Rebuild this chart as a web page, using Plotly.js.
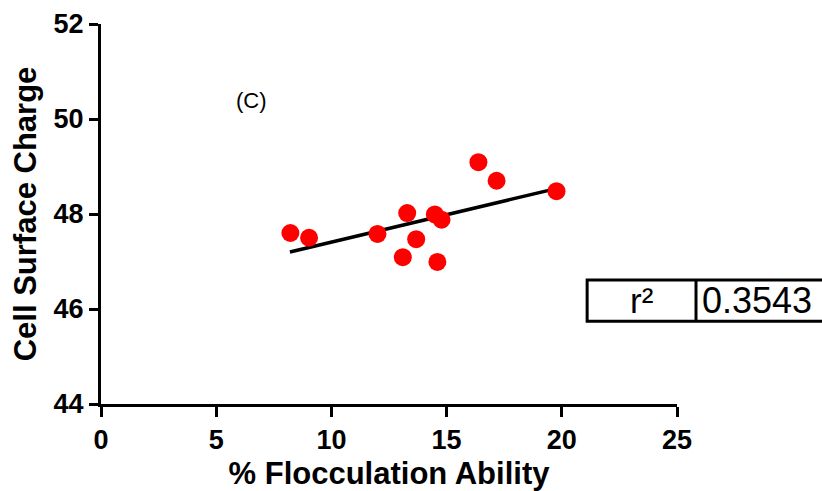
<!DOCTYPE html>
<html>
<head>
<meta charset="utf-8">
<script src="https://cdn.plot.ly/plotly-3.0.1.min.js"></script>
<style>html,body{margin:0;padding:0;background:#fff;}#chart{width:822px;height:491px;}</style>
</head>
<body>
<div id="chart"></div>
<script>
var flocculation = [8.22, 9.03, 12.0, 13.29, 13.1, 13.68, 14.49, 14.78, 14.6, 16.38, 17.17, 19.77];
var surfaceCharge = [47.60, 47.50, 47.58, 48.02, 47.09, 47.47, 47.99, 47.88, 46.99, 49.09, 48.70, 48.48];
var fitX = [8.2, 19.8];
var fitY = [47.20, 48.54];
var xTicks = [0, 5, 10, 15, 20, 25];
var yTicks = [44, 46, 48, 50, 52];
var panelLabel = "(C)";
var statName = "r²";
var statValue = "0.3543";

var font = "Liberation Sans, Arial, Helvetica, sans-serif";

var traces = [
  {x: fitX, y: fitY, mode: "lines", line: {color: "#000", width: 3.5}, hoverinfo: "skip"},
  {x: flocculation, y: surfaceCharge, mode: "markers",
   marker: {color: "#ff0000", size: 18, line: {width: 0}}}
];

var layout = {
  width: 822, height: 491,
  margin: {l: 101, r: 145, t: 24, b: 87},
  paper_bgcolor: "#fff", plot_bgcolor: "#fff",
  showlegend: false,
  font: {family: font, color: "#000"},
  xaxis: {
    range: [0, 25], tickvals: xTicks, ticktext: xTicks.map(String),
    showgrid: false, zeroline: false, showline: true, linecolor: "#000", linewidth: 3,
    ticks: "outside", ticklen: 10, tickwidth: 3, tickcolor: "#000",
    tickfont: {family: font, size: 27, color: "#000", weight: "bold"},
    title: {text: "<b>% Flocculation Ability</b>", font: {family: font, size: 31, color: "#000"}, standoff: 9}
  },
  yaxis: {
    range: [44, 52], tickvals: yTicks, ticktext: yTicks.map(String),
    showgrid: false, zeroline: false, showline: true, linecolor: "#000", linewidth: 3,
    ticks: "outside", ticklen: 9, tickwidth: 3, tickcolor: "#000",
    tickfont: {family: font, size: 27, color: "#000", weight: "bold"},
    title: {text: "<b>Cell Surface Charge</b>", font: {family: font, size: 31, color: "#000"}, standoff: 8}
  },
  shapes: [
    {type: "rect", xref: "paper", yref: "paper", x0: 0.844, x1: 1.30, y0: 0.218, y1: 0.326,
     line: {color: "#000", width: 3}, fillcolor: "rgba(0,0,0,0)"},
    {type: "line", xref: "paper", yref: "paper", x0: 1.033, x1: 1.033, y0: 0.218, y1: 0.326,
     line: {color: "#000", width: 3}}
  ],
  annotations: [
    {x: 6.55, y: 50.4, xref: "x", yref: "y", text: panelLabel, showarrow: false,
     font: {family: font, size: 22, color: "#000"}},
    {x: (0.844 + 1.033) / 2, y: 0.272, xref: "paper", yref: "paper", text: statName, showarrow: false,
     xanchor: "center", yanchor: "middle",
     font: {family: font, size: 35, color: "#000"}},
    {x: 1.040, y: 0.272, xref: "paper", yref: "paper", text: statValue, showarrow: false,
     xanchor: "left", yanchor: "middle",
     font: {family: font, size: 36, color: "#000"}}
  ]
};

Plotly.newPlot("chart", traces, layout, {displayModeBar: false, staticPlot: true});
</script>
</body>
</html>
